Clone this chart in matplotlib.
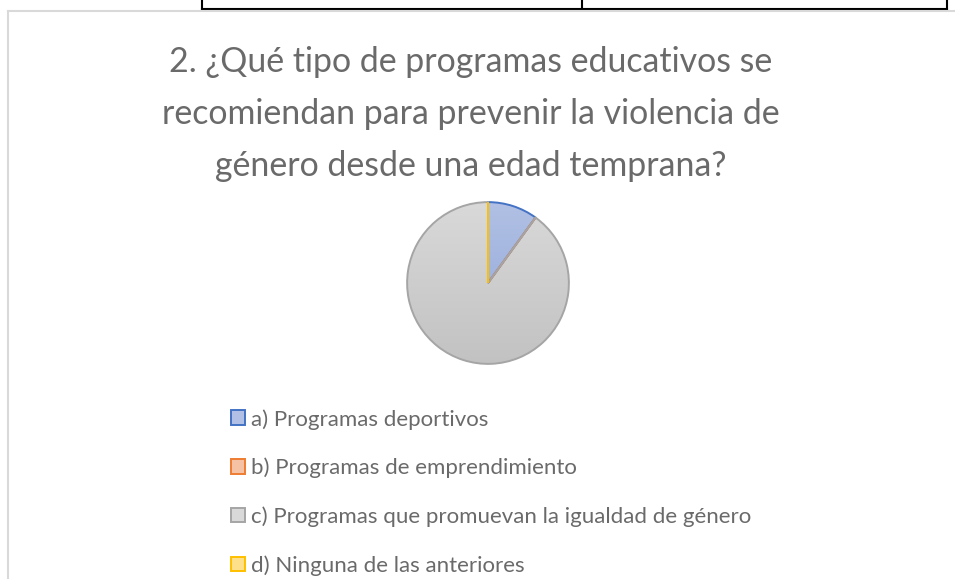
import numpy as np
import matplotlib
matplotlib.use('Agg')
import matplotlib.pyplot as plt
from matplotlib.patches import Patch
from matplotlib.lines import Line2D
from matplotlib.colors import LinearSegmentedColormap

plt.rcParams['font.family'] = ['Lato', 'DejaVu Sans']

# data
title = '2. ¿Qué tipo de programas educativos se\nrecomiendan para prevenir la violencia de\ngénero desde una edad temprana?'
labels = ['a) Programas deportivos',
          'b) Programas de emprendimiento',
          'c) Programas que promuevan la igualdad de género',
          'd) Ninguna de las anteriores']
values = [1, 0, 9, 0]

edge_colors = ['#4472C4', '#ED7D31', '#A5A5A5', '#FFC000']
fill_top = ['#B1C0E4', '#F6C2A6', '#D9D9D9', '#FFE08A']
fill_bottom = ['#8DA6D8', '#F1A67E', '#C2C2C2', '#FFD257']
text_color = '#6A6A6A'

W, H = 955, 579
fig = plt.figure(figsize=(W / 100, H / 100), dpi=100)


def fx(x):
    return x / W


def fy(y):
    return 1 - y / H


# table lines above the chart and the chart's own border
for x in (202, 582, 947):
    fig.add_artist(Line2D([fx(x), fx(x)], [fy(0), fy(9)], color='black', lw=1.5))
fig.add_artist(Line2D([fx(202), fx(947)], [fy(8.5), fy(8.5)], color='black', lw=1.5))
fig.add_artist(Line2D([fx(8), fx(955)], [fy(11), fy(11)], color='#D9D9D9', lw=1.5))
fig.add_artist(Line2D([fx(8), fx(8)], [fy(11), fy(579)], color='#D9D9D9', lw=1.5))

fig.text(fx(471), fy(114), title, ha='center', va='center', fontsize=24.4,
         color=text_color, linespacing=1.78)

# pie
cx, cy, r = 488, 283, 82.5
ax = fig.add_axes([fx(cx - r), fy(cy + r), 2 * r / W, 2 * r / H])
wedges, _ = ax.pie(values, startangle=90, counterclock=False, radius=1,
                   wedgeprops=dict(linewidth=1.4))
grad = np.linspace(0, 1, 256).reshape(-1, 1)
for w, ec, c0, c1 in zip(wedges, edge_colors, fill_top, fill_bottom):
    w.set_edgecolor(ec)
    w.set_facecolor('none')
    w.set_zorder(3)
    cmap = LinearSegmentedColormap.from_list('g', [c0, c1])
    im = ax.imshow(grad, extent=(-1, 1, -1, 1), cmap=cmap, aspect='auto',
                   origin='upper', zorder=2)
    im.set_clip_path(w)
ax.set_xlim(-1.02, 1.02)
ax.set_ylim(-1.02, 1.02)
ax.axis('off')

# legend
handles = [Patch(facecolor=c, edgecolor=e, linewidth=1.4)
           for c, e in zip(fill_top, edge_colors)]
leg = fig.legend(handles, labels, loc='upper left',
                 bbox_to_anchor=(fx(231), fy(409)), frameon=False,
                 borderpad=0, borderaxespad=0,
                 fontsize=16.06, labelcolor=text_color, labelspacing=1.26,
                 handlelength=0.63, handleheight=0.63, handletextpad=0.27)

fig.savefig('out.png', dpi=100)
